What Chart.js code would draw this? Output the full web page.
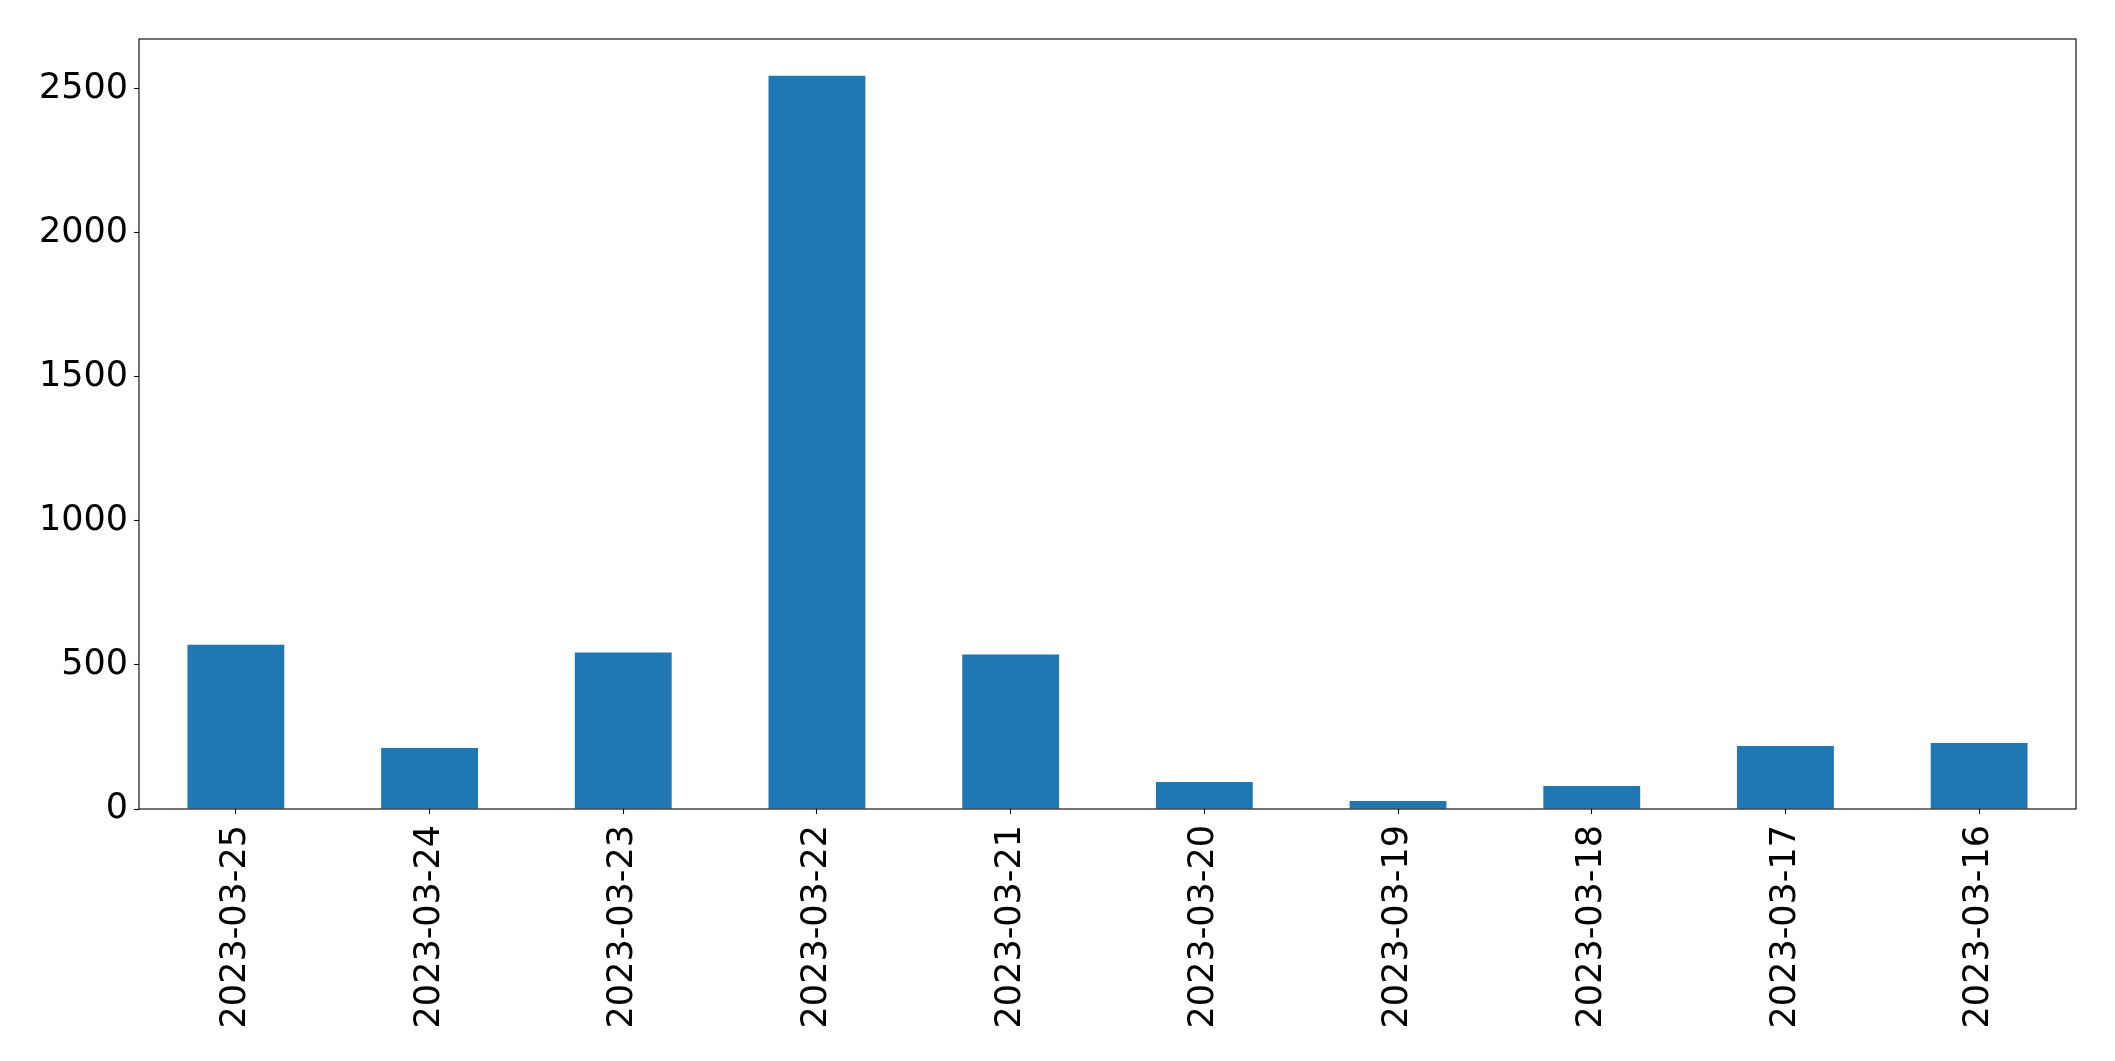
<!DOCTYPE html>
<html>
<head>
<meta charset="utf-8">
<script src="https://cdn.jsdelivr.net/npm/chart.js@4/dist/chart.umd.min.js"></script>
<style>
  html, body { margin: 0; padding: 0; background: #fff; }
  #wrap { width: 2115px; height: 1061px; position: relative; }
</style>
</head>
<body>
<div id="wrap"><canvas id="c" width="2115" height="1061"></canvas></div>
<script>
const categories = ["2023-03-25","2023-03-24","2023-03-23","2023-03-22","2023-03-21","2023-03-20","2023-03-19","2023-03-18","2023-03-17","2023-03-16"];
const values = [570, 212, 543, 2546, 536, 94, 28, 80, 219, 229];
const yTicks = [0, 500, 1000, 1500, 2000, 2500];

const frame = {
  id: 'frame',
  afterDraw(chart) {
    const a = chart.chartArea, ctx = chart.ctx;
    ctx.save();
    ctx.strokeStyle = '#000';
    ctx.lineWidth = 1.1;
    ctx.strokeRect(a.left, a.top, a.right - a.left, a.bottom - a.top);
    ctx.restore();
  }
};

const font = { family: 'DejaVu Sans', size: 35 };

new Chart(document.getElementById('c'), {
  type: 'bar',
  data: {
    labels: categories,
    datasets: [{
      data: values,
      backgroundColor: '#1f77b4',
      borderWidth: 0,
      categoryPercentage: 1.0,
      barPercentage: 0.5
    }]
  },
  options: {
    responsive: false,
    animation: false,
    devicePixelRatio: 1,
    layout: { padding: { left: 0, top: 39, right: 39, bottom: 0 } },
    plugins: { legend: { display: false }, tooltip: { enabled: false } },
    scales: {
      x: {
        offset: true,
        grid: { display: true, offset: false, drawOnChartArea: false, drawTicks: true, tickLength: 5, tickColor: '#000', tickWidth: 1.1 },
        border: { display: false },
        ticks: { color: '#000', font: font, minRotation: 90, maxRotation: 90, autoSkip: false, padding: 11 },
        afterFit(s) { s.height = 252; }
      },
      y: {
        min: 0,
        max: Math.max(...values) * 1.05,
        grid: { display: true, drawOnChartArea: false, drawTicks: true, tickLength: 5, tickColor: '#000', tickWidth: 1.1 },
        border: { display: false },
        afterBuildTicks(s) { s.ticks = yTicks.map(v => ({ value: v })); },
        ticks: { color: '#000', font: font, padding: 6, callback: v => String(v) },
        afterFit(s) { s.width = 139; }
      }
    }
  },
  plugins: [frame]
});
</script>
</body>
</html>
